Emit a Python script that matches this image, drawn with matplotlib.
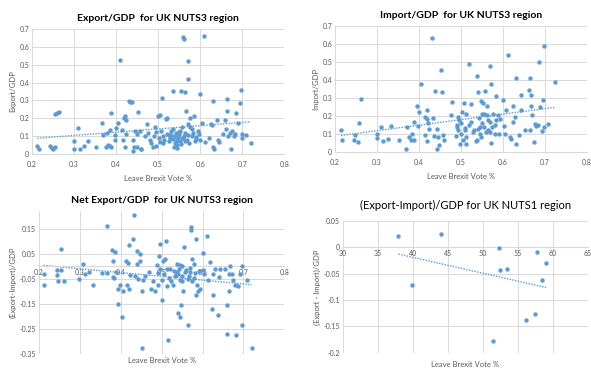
import numpy as np
import matplotlib
matplotlib.use("Agg")
import matplotlib.pyplot as plt

plt.rcParams["font.family"] = ["Lato", "DejaVu Sans"]

# ---- Export/GDP, NUTS3 ----
exp_x = [0.213, 0.217, 0.243, 0.247, 0.25, 0.256, 0.256, 0.26, 0.264,
         0.30, 0.30, 0.31, 0.314, 0.325, 0.333, 0.353, 0.367, 0.369,
         0.377, 0.381, 0.385, 0.389, 0.379, 0.385, 0.389, 0.397, 0.397, 0.400, 0.405, 0.41,
         0.415, 0.417, 0.418, 0.421, 0.423, 0.421, 0.424, 0.431, 0.434, 0.437, 0.44, 0.443,
         0.44, 0.445, 0.45, 0.449, 0.453, 0.457, 0.46, 0.46, 0.468, 0.473, 0.475, 0.48,
         0.483, 0.487, 0.49, 0.492, 0.494, 0.496, 0.50, 0.502, 0.504, 0.505, 0.508, 0.51,
         0.512, 0.512, 0.515, 0.518, 0.52, 0.52, 0.525, 0.528, 0.53, 0.535, 0.536, 0.538,
         0.54, 0.54, 0.542, 0.544, 0.546, 0.548, 0.55, 0.551, 0.552, 0.555, 0.556, 0.558,
         0.56, 0.562, 0.563, 0.562, 0.565, 0.567, 0.568, 0.57, 0.572, 0.572, 0.574, 0.575,
         0.577, 0.58, 0.582, 0.585, 0.587, 0.59, 0.595, 0.598, 0.60, 0.60, 0.605, 0.61,
         0.612, 0.62, 0.625, 0.627, 0.63, 0.63, 0.633, 0.64, 0.642, 0.645, 0.655, 0.66,
         0.662, 0.663, 0.665, 0.667, 0.67, 0.673, 0.675, 0.68, 0.683, 0.686, 0.69, 0.695,
         0.698, 0.70, 0.70, 0.71, 0.72,
         0.53, 0.535, 0.545, 0.55, 0.56, 0.565, 0.57, 0.58, 0.59, 0.545, 0.555, 0.525]
exp_y = [0.043, 0.030, 0.047, 0.034, 0.028, 0.037, 0.226, 0.230, 0.234,
         0.071, 0.025, 0.146, 0.025, 0.043, 0.071, 0.037, 0.174, 0.108,
         0.040, 0.048, 0.042, 0.040, 0.118, 0.133, 0.230, 0.080, 0.105, 0.146, 0.174, 0.528,
         0.136, 0.080, 0.200, 0.210, 0.190, 0.040, 0.110, 0.298, 0.293, 0.293, 0.080, 0.040,
         0.016, 0.130, 0.110, 0.040, 0.236, 0.130, 0.030, 0.025, 0.100, 0.170, 0.120, 0.080,
         0.060, 0.040, 0.100, 0.150, 0.045, 0.125, 0.210, 0.090, 0.065, 0.220, 0.130, 0.313,
         0.100, 0.060, 0.080, 0.195, 0.200, 0.110, 0.070, 0.090, 0.130, 0.355, 0.140, 0.040,
         0.100, 0.060, 0.120, 0.080, 0.050, 0.095, 0.110, 0.130, 0.070, 0.355, 0.090, 0.150,
         0.654, 0.645, 0.346, 0.100, 0.120, 0.240, 0.080, 0.523, 0.422, 0.170, 0.060, 0.150,
         0.200, 0.100, 0.120, 0.210, 0.070, 0.085, 0.130, 0.110, 0.336, 0.080, 0.175, 0.660,
         0.065, 0.090, 0.170, 0.160, 0.295, 0.040, 0.030, 0.190, 0.080, 0.065, 0.110, 0.190,
         0.140, 0.308, 0.243, 0.100, 0.120, 0.030, 0.130, 0.100, 0.110, 0.230, 0.175, 0.285,
         0.356, 0.090, 0.110, 0.105, 0.060,
         0.105, 0.085, 0.075, 0.125, 0.090, 0.070, 0.105, 0.140, 0.095, 0.035, 0.055, 0.105]

# ---- Import/GDP, NUTS3 ----
imp_x = [0.214, 0.216, 0.244, 0.248, 0.255, 0.257, 0.261, 0.299, 0.30, 0.309, 0.313, 0.325,
         0.333, 0.353, 0.368, 0.371, 0.377, 0.38, 0.383, 0.387, 0.389, 0.395, 0.397, 0.401,
         0.404, 0.414, 0.415, 0.418, 0.419, 0.42, 0.422, 0.424, 0.431, 0.434, 0.436, 0.439,
         0.442, 0.442, 0.446, 0.448, 0.453, 0.454, 0.458, 0.46, 0.476, 0.479, 0.488, 0.49,
         0.492, 0.493, 0.496, 0.497, 0.499, 0.503, 0.505, 0.507, 0.509, 0.511, 0.512, 0.513,
         0.519, 0.524, 0.525, 0.528, 0.537, 0.539, 0.54, 0.541, 0.544, 0.546, 0.547, 0.548,
         0.549, 0.553, 0.555, 0.558, 0.559, 0.561, 0.563, 0.568, 0.569, 0.571, 0.572, 0.574,
         0.576, 0.58, 0.583, 0.584, 0.588, 0.59, 0.592, 0.60, 0.602, 0.604, 0.608, 0.613,
         0.616, 0.62, 0.624, 0.625, 0.628, 0.631, 0.632, 0.639, 0.642, 0.644, 0.653, 0.662,
         0.664, 0.666, 0.668, 0.669, 0.664, 0.674, 0.676, 0.679, 0.683, 0.687, 0.689, 0.693,
         0.695, 0.697, 0.699, 0.708, 0.723,
         0.52, 0.53, 0.545, 0.55, 0.565, 0.57, 0.58, 0.50, 0.51, 0.49, 0.535, 0.555, 0.565]
imp_y = [0.120, 0.065, 0.065, 0.093, 0.056, 0.161, 0.295, 0.102, 0.078, 0.139, 0.061, 0.074,
         0.145, 0.065, 0.015, 0.139, 0.083, 0.065, 0.102, 0.169, 0.065, 0.254, 0.143, 0.223,
         0.377, 0.195, 0.093, 0.236, 0.186, 0.059, 0.161, 0.126, 0.631, 0.190, 0.087, 0.341,
         0.130, 0.015, 0.083, 0.041, 0.458, 0.336, 0.093, 0.065, 0.204, 0.278, 0.089, 0.148,
         0.121, 0.195, 0.176, 0.043, 0.102, 0.223, 0.069, 0.273, 0.135, 0.046, 0.213, 0.083,
         0.490, 0.167, 0.265, 0.111, 0.421, 0.065, 0.334, 0.130, 0.189, 0.102, 0.282, 0.083,
         0.213, 0.275, 0.139, 0.338, 0.111, 0.204, 0.254, 0.477, 0.167, 0.050, 0.377, 0.139,
         0.213, 0.098, 0.312, 0.176, 0.204, 0.102, 0.186, 0.289, 0.143, 0.102, 0.232, 0.540,
         0.083, 0.074, 0.254, 0.167, 0.195, 0.046, 0.412, 0.093, 0.236, 0.315, 0.121, 0.347,
         0.412, 0.254, 0.315, 0.204, 0.121, 0.056, 0.158, 0.143, 0.152, 0.501, 0.250, 0.117,
         0.288, 0.139, 0.588, 0.158, 0.388,
         0.150, 0.120, 0.140, 0.160, 0.120, 0.110, 0.150, 0.160, 0.120, 0.140, 0.060, 0.210, 0.180]

# ---- (Export-Import)/GDP, NUTS3 ----
net_x = [0.212, 0.211, 0.244, 0.245, 0.247, 0.254, 0.255, 0.261, 0.299, 0.308, 0.313, 0.323,
         0.333, 0.353, 0.367, 0.367, 0.378, 0.38, 0.382, 0.384, 0.387, 0.389, 0.394, 0.394,
         0.398, 0.402, 0.406, 0.413, 0.415, 0.417, 0.419, 0.421, 0.422, 0.431, 0.433, 0.436,
         0.439, 0.44, 0.443, 0.447, 0.448, 0.451, 0.452, 0.455, 0.459, 0.469, 0.474, 0.48,
         0.484, 0.488, 0.49, 0.492, 0.494, 0.496, 0.497, 0.50, 0.502, 0.504, 0.505, 0.508,
         0.51, 0.512, 0.513, 0.516, 0.518, 0.524, 0.527, 0.532, 0.537, 0.538, 0.541, 0.543,
         0.545, 0.546, 0.547, 0.549, 0.551, 0.555, 0.553, 0.557, 0.565, 0.567, 0.569, 0.571,
         0.573, 0.575, 0.575, 0.579, 0.581, 0.584, 0.585, 0.587, 0.59, 0.591, 0.594, 0.60,
         0.602, 0.604, 0.61, 0.614, 0.618, 0.622, 0.625, 0.626, 0.63, 0.638, 0.641, 0.643,
         0.655, 0.659, 0.661, 0.664, 0.665, 0.667, 0.671, 0.675, 0.679, 0.683, 0.686, 0.691,
         0.696, 0.697, 0.708, 0.72,
         0.53, 0.54, 0.55, 0.56, 0.57, 0.58, 0.52, 0.545, 0.565, 0.535]
net_y = [-0.031, -0.076, -0.036, -0.017, -0.057, -0.017, 0.069, -0.060, -0.049, 0.007, -0.031, -0.024,
         -0.073, -0.027, 0.160, -0.027, 0.066, -0.043, 0.020, -0.047, 0.056, -0.023, -0.089, -0.150,
         -0.073, -0.203, -0.100, 0.020, -0.073, 0.013, -0.089, 0.086, -0.036, 0.109, 0.206, -0.040,
         0.060, 0.007, -0.051, 0.047, 0.020, -0.097, -0.326, -0.053, -0.037, -0.023, -0.089, -0.060,
         -0.100, 0.004, -0.073, -0.027, 0.040, 0.089, -0.013, -0.053, -0.133, 0.020, -0.033, 0.027,
         0.100, -0.013, -0.080, -0.295, -0.047, -0.060, -0.073, -0.040, 0.007, -0.023, -0.186, -0.013,
         -0.053, -0.203, -0.153, -0.060, 0.000, 0.078, -0.100, -0.023, -0.233, -0.040, -0.007, 0.156,
         0.144, 0.027, -0.060, 0.007, -0.027, -0.113, 0.109, -0.073, -0.097, -0.020, -0.089, 0.051,
         -0.017, -0.031, 0.122, -0.053, 0.017, -0.169, -0.031, -0.113, -0.013, -0.193, -0.044, -0.013,
         -0.013, -0.270, -0.153, -0.031, -0.097, 0.000, -0.033, -0.053, -0.073, -0.273, -0.080, -0.031,
         0.000, -0.235, -0.053, -0.326,
         -0.020, -0.030, -0.040, -0.015, -0.025, -0.045, -0.010, 0.005, -0.050, -0.035]

# ---- (Export-Import)/GDP, NUTS1 ----
n1_x = [37.95, 39.9, 44.05, 51.5, 52.24, 52.38, 53.4, 56.2, 57.38, 57.7, 58.5, 59.0]
n1_y = [0.021, -0.071, 0.026, -0.178, -0.001, -0.042, -0.040, -0.137, -0.126, -0.009, -0.062, -0.029]

blue = "#5b9bd5"
grid_c = "#d9d9d9"
tick_c = "#595959"

fig = plt.figure(figsize=(5.91, 3.71), dpi=100)


def panel(rect, x, y, title, ylabel, xlim, ylim, xticks, yticks, bold=True, tsize=7.5, tpad=6, xpad=2):
    ax = fig.add_axes(rect)
    x = np.asarray(x)
    y = np.asarray(y)
    ax.scatter(x, y, s=10, color=blue, zorder=3, linewidths=0)
    k, b = np.polyfit(x, y, 1)
    xs = np.array([x.min(), x.max()])
    ax.plot(xs, k * xs + b, linestyle=(0, (1, 1)), color=blue, lw=1.0, zorder=2)
    ax.set_xlim(*xlim)
    ax.set_ylim(*ylim)
    ax.set_xticks(xticks)
    ax.set_yticks(yticks)
    ax.grid(True, color=grid_c, lw=0.7)
    ax.set_axisbelow(True)
    for s in ["top", "right", "left"]:
        ax.spines[s].set_visible(False)
    ax.spines["bottom"].set_position(("data", 0))
    ax.spines["bottom"].set_color(grid_c)
    ax.tick_params(length=0, labelsize=5, colors=tick_c, pad=2)
    ax.tick_params(axis="x", pad=xpad)
    ax.set_title(title, fontsize=tsize, fontweight="bold" if bold else "normal", pad=tpad)
    ax.set_ylabel(ylabel, fontsize=5.5, color=tick_c, labelpad=2)
    return ax


x3 = [0.2, 0.3, 0.4, 0.5, 0.6, 0.7, 0.8]
x3_lab = ["0.2", "0.3", "0.4", "0.5", "0.6", "0.7", "0.8"]
y_top = np.arange(0, 0.71, 0.1)
y_top_lab = ["0", "0.1", "0.2", "0.3", "0.4", "0.5", "0.6", "0.7"]

ax1 = panel([0.054, 0.585, 0.427, 0.337], exp_x, exp_y, "Export/GDP  for UK NUTS3 region",
            "Export/GDP", (0.2, 0.8), (0, 0.7), x3, y_top, xpad=5)
ax1.set_xticklabels(x3_lab)
ax1.set_yticklabels(y_top_lab)
ax1.set_xlabel("Leave Brexit Vote %", fontsize=5.5, color=tick_c, labelpad=5)

ax2 = panel([0.567, 0.590, 0.426, 0.340], imp_x, imp_y, "Import/GDP  for UK NUTS3 region",
            "Import/GDP", (0.2, 0.8), (0, 0.7), x3, y_top, xpad=5)
ax2.set_xticklabels(x3_lab)
ax2.set_yticklabels(y_top_lab)
ax2.set_xlabel("Leave Brexit Vote %", fontsize=5.5, color=tick_c, labelpad=5)

ax3 = panel([0.066, 0.046, 0.415, 0.385], net_x, net_y, "Net Export/GDP  for UK NUTS3 region",
            "(Export-Import)/GDP", (0.2, 0.8), (-0.35, 0.22), x3,
            [-0.35, -0.25, -0.15, -0.05, 0.05, 0.15])
ax3.set_xticklabels(x3_lab)
ax3.set_yticklabels(["-0.35", "-0.25", "-0.15", "-0.05", "0.05", "0.15"])
ax3.text(0.5, -0.02, "Leave Brexit Vote %", transform=ax3.transAxes, ha="center", va="top",
         fontsize=5.5, color=tick_c)

ax4 = panel([0.580, 0.049, 0.415, 0.355], n1_x, n1_y, "(Export-Import)/GDP for UK NUTS1 region",
            "(Export - Import)/GDP", (30, 65), (-0.2, 0.05), range(30, 66, 5),
            [-0.2, -0.15, -0.1, -0.05, 0, 0.05], bold=False, tsize=8, tpad=9)
ax4.set_yticklabels(["-0.2", "-0.15", "-0.1", "-0.05", "0", "0.05"])
ax4.text(0.5, -0.06, "Leave Brexit Vote %", transform=ax4.transAxes, ha="center", va="top",
         fontsize=5.5, color=tick_c)

fig.savefig("out.png", dpi=100)
